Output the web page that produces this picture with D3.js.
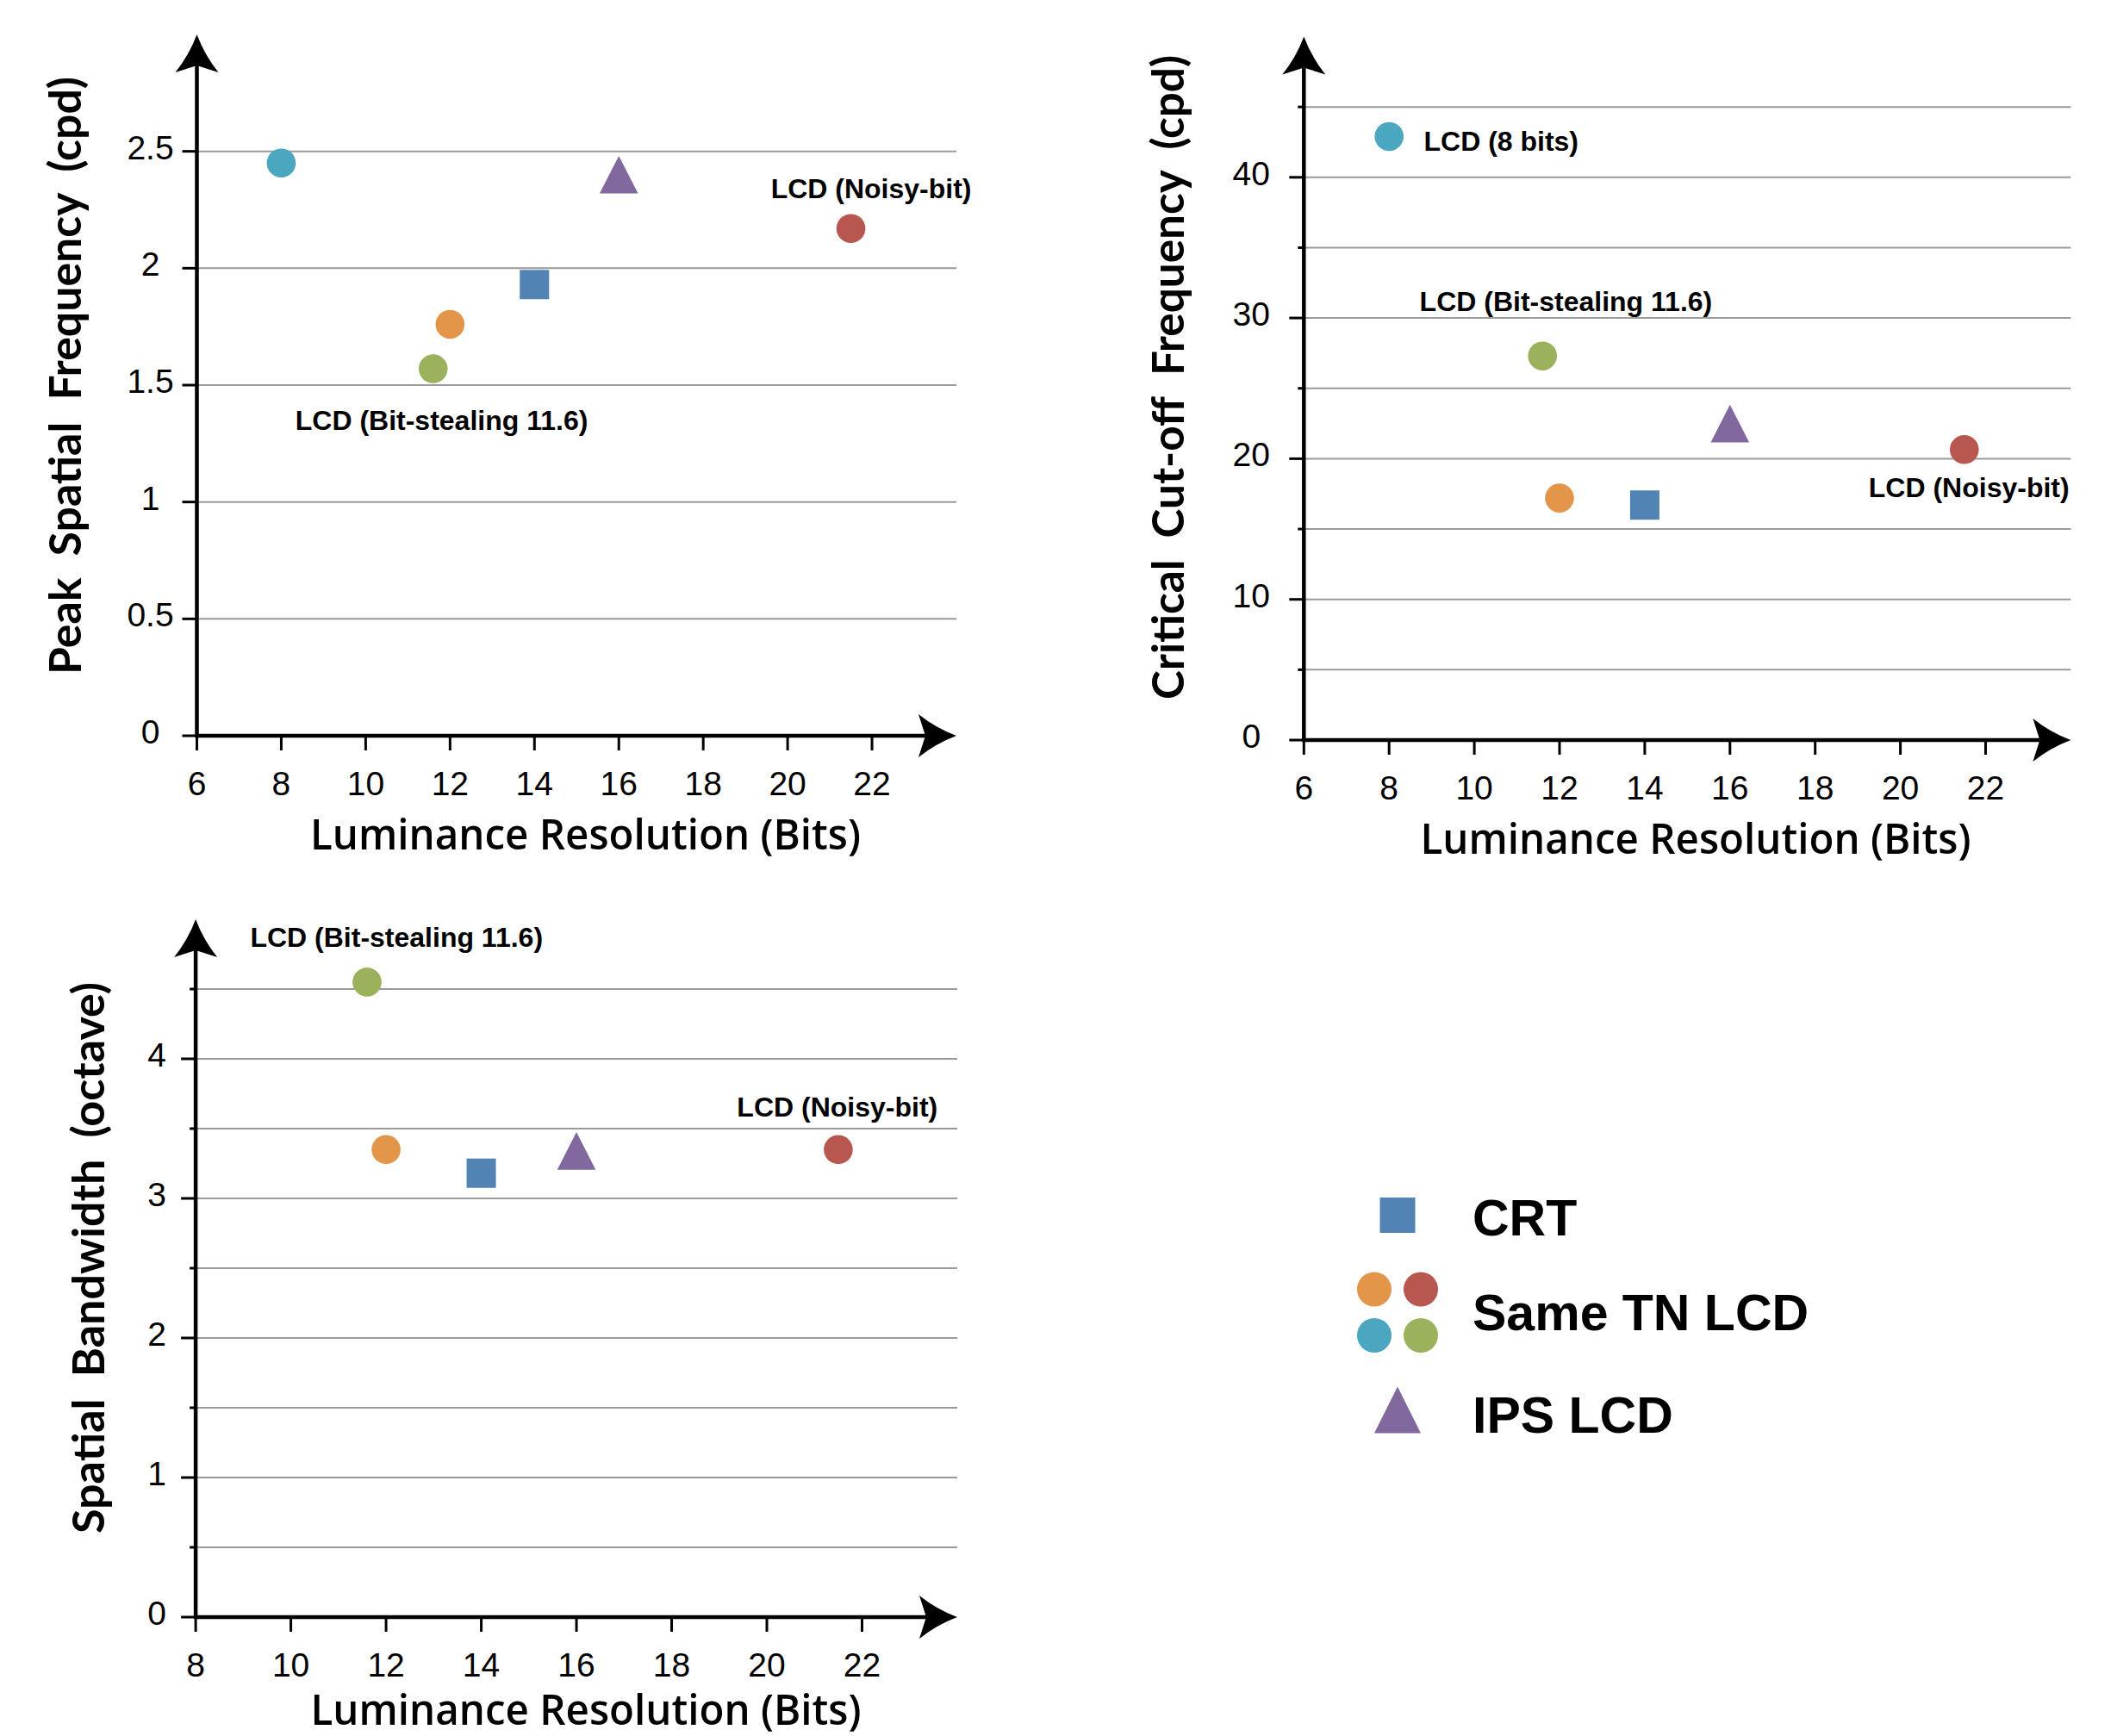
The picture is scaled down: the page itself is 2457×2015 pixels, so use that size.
<!DOCTYPE html>
<html>
<head>
<meta charset="utf-8">
<script src="https://cdn.jsdelivr.net/npm/d3@7"></script>
<style>
  html, body { margin: 0; padding: 0; background: #fff; }
  svg { display: block; }
</style>
</head>
<body>
<div id="chart"></div>
<script>
// data
var devices = ["CRT", "LCD (8 bits)", "LCD 12 bits", "LCD (Bit-stealing 11.6)", "LCD (Noisy-bit)", "IPS LCD"];
var bits = [14, 8, 12, 11.6, 21.5, 16];
var peakFreq = [1.93, 2.45, 1.76, 1.57, 2.17, 2.40];
var cutoffFreq = [16.7, 42.9, 17.2, 27.3, 20.65, 22.5];
var bandwidth = [3.18, null, 3.35, 4.55, 3.35, 3.34];

var xTicks1 = [6, 8, 10, 12, 14, 16, 18, 20, 22];
var xTicks3 = [8, 10, 12, 14, 16, 18, 20, 22];
var yTicks1 = [0, 0.5, 1, 1.5, 2, 2.5];
var yLabels1 = ["0", "0.5", "1", "1.5", "2", "2.5"];
var yTicks2 = [0, 5, 10, 15, 20, 25, 30, 35, 40, 45];
var yLabels2 = [0, 10, 20, 30, 40];
var yTicks3 = [0, 0.5, 1, 1.5, 2, 2.5, 3, 3.5, 4, 4.5];
var yLabels3 = [0, 1, 2, 3, 4];

var legendNames = ["CRT", "Same TN LCD", "IPS LCD"];

// annotation anchors (data units, text centre)
var notes1 = [["LCD (Noisy-bit)", 21.98, 2.342], ["LCD (Bit-stealing 11.6)", 11.80, 1.349]];
var notes2 = [["LCD (8 bits)", 10.63, 42.56], ["LCD (Bit-stealing 11.6)", 12.15, 31.17], ["LCD (Noisy-bit)", 21.61, 17.97]];
var notes3 = [["LCD (Bit-stealing 11.6)", 12.22, 4.872], ["LCD (Noisy-bit)", 21.48, 3.652]];

// styles per device
var shapes = ["square", "circle", "circle", "circle", "circle", "triangle"];
var colors = ["#5183b5", "#4aa7bf", "#e3964a", "#9bb15c", "#b85750", "#8169a0"];

var W = 2457, H = 2015;
var svg = d3.select("#chart").append("svg")
    .attr("width", W).attr("height", H);

var arrowUp = "M0,0 Q9,24 25,44 L0,36 L-25,44 Q-9,24 0,0 Z";

function drawPanel(p) {
    var x = d3.scaleLinear().domain(p.xDomain).range(p.xRange);
    var y = d3.scaleLinear().domain(p.yDomain).range(p.yRange);
    var g = svg.append("g");
    var x0 = x(p.xDomain[0]), y0 = y(0);
    var xEnd = x(p.xDomain[1]), yEnd = y(p.yDomain[1]);

    // gridlines
    g.selectAll(".grid")
        .data(p.yTicks.filter(function(d) { return d > 0; }))
        .join("line")
        .attr("x1", x0).attr("x2", xEnd)
        .attr("y1", function(d) { return y(d); })
        .attr("y2", function(d) { return y(d); })
        .attr("stroke", "#9a9a9a")
        .attr("stroke-width", 2);

    // y ticks
    g.selectAll(".ytick")
        .data(p.yTicks)
        .join("line")
        .attr("x1", function(d) { return p.yLabels.indexOf(d) >= 0 || p.allMajor ? x0 - 17 : x0 - 7; })
        .attr("x2", x0)
        .attr("y1", function(d) { return y(d); })
        .attr("y2", function(d) { return y(d); })
        .attr("stroke", "#000")
        .attr("stroke-width", 3);

    g.selectAll(".ylab")
        .data(p.yLabels)
        .join("text")
        .attr("x", x0 + p.yLabelDx)
        .attr("y", function(d) { return y(d) + 9; })
        .attr("text-anchor", "middle")
        .style("font-family", "'Liberation Sans', Arial, sans-serif")
        .style("font-size", "39px")
        .text(function(d, i) { return p.yText ? p.yText[i] : d; });

    // x ticks
    g.selectAll(".xtick")
        .data(p.xTicks)
        .join("line")
        .attr("x1", function(d) { return x(d); })
        .attr("x2", function(d) { return x(d); })
        .attr("y1", y0)
        .attr("y2", y0 + 17)
        .attr("stroke", "#000")
        .attr("stroke-width", 3);

    g.selectAll(".xlab")
        .data(p.xTicks)
        .join("text")
        .attr("x", function(d) { return x(d); })
        .attr("y", y0 + 69)
        .attr("text-anchor", "middle")
        .style("font-family", "'Liberation Sans', Arial, sans-serif")
        .style("font-size", "39px")
        .text(function(d) { return d; });

    // axes with arrows
    g.append("line")
        .attr("x1", x0).attr("x2", x0)
        .attr("y1", y0 + 2).attr("y2", yEnd + 36)
        .attr("stroke", "#000").attr("stroke-width", 4.5);
    g.append("line")
        .attr("x1", x0 - 2).attr("x2", xEnd - 36)
        .attr("y1", y0).attr("y2", y0)
        .attr("stroke", "#000").attr("stroke-width", 4.5);
    g.append("path")
        .attr("d", arrowUp)
        .attr("transform", "translate(" + x0 + "," + yEnd + ")")
        .attr("fill", "#000");
    g.append("path")
        .attr("d", arrowUp)
        .attr("transform", "translate(" + xEnd + "," + y0 + ") rotate(90)")
        .attr("fill", "#000");

    // axis titles
    g.append("text")
        .attr("x", p.xTitle[0])
        .attr("y", p.xTitle[1])
        .attr("text-anchor", "middle")
        .attr("textLength", 639)
        .attr("lengthAdjust", "spacingAndGlyphs")
        .style("font-family", "'Open Sans', sans-serif")
        .style("font-weight", 600)
        .style("font-size", "49px")
        .text("Luminance Resolution (Bits)");

    g.append("text")
        .attr("transform", "translate(" + p.yTitle[0] + "," + p.yTitle[1] + ") rotate(-90)")
        .attr("text-anchor", "middle")
        .attr("textLength", p.yTitle[2])
        .attr("lengthAdjust", "spacingAndGlyphs")
        .style("font-family", "Lato, 'Open Sans', sans-serif")
        .style("font-weight", 700)
        .style("font-size", "52px")
        .style("white-space", "pre")
        .text(p.yTitle[3]);

    // markers
    var pts = devices.map(function(d, i) {
        return {name: d, x: bits[i], y: p.values[i], shape: shapes[i], color: colors[i]};
    }).filter(function(d) { return d.y != null; });

    g.selectAll(".pt")
        .data(pts)
        .join("path")
        .attr("transform", function(d) { return "translate(" + x(d.x) + "," + y(d.y) + ")"; })
        .attr("d", function(d) {
            if (d.shape === "square") return "M-17,-17H17V17H-17Z";
            if (d.shape === "triangle") return "M0,-21.8L22.3,21.8L-22.3,21.8Z";
            return d3.arc()({innerRadius: 0, outerRadius: 16.8, startAngle: 0, endAngle: 2 * Math.PI});
        })
        .attr("fill", function(d) { return d.color; });

    // annotations
    g.selectAll(".note")
        .data(p.notes)
        .join("text")
        .attr("x", function(d) { return x(d[1]); })
        .attr("y", function(d) { return y(d[2]) + 11; })
        .attr("text-anchor", "middle")
        .style("font-family", "'Liberation Sans', Arial, sans-serif")
        .style("font-weight", "bold")
        .style("font-size", "32px")
        .text(function(d) { return d[0]; });
}

drawPanel({
    xDomain: [6, 24], xRange: [228.5, 1110],
    yDomain: [0, 3], yRange: [854, 40],
    xTicks: xTicks1, yTicks: yTicks1, yLabels: yTicks1, yText: yLabels1, allMajor: true,
    yLabelDx: -54,
    xTitle: [679.5, 986],
    yTitle: [94, 436, 694, "Peak  Spatial  Frequency  (cpd)"],
    values: peakFreq, notes: notes1
});

drawPanel({
    xDomain: [6, 24], xRange: [1513.3, 2403.4],
    yDomain: [0, 50], yRange: [859, 42.5],
    xTicks: xTicks1, yTicks: yTicks2, yLabels: yLabels2,
    yLabelDx: -61,
    xTitle: [1968, 991],
    yTitle: [1374, 438, 748, "Critical  Cut-off  Frequency  (cpd)"],
    values: cutoffFreq, notes: notes2
});

drawPanel({
    xDomain: [8, 24], xRange: [227.1, 1111],
    yDomain: [0, 5], yRange: [1877, 1067],
    xTicks: xTicks3, yTicks: yTicks3, yLabels: yLabels3,
    yLabelDx: -45,
    xTitle: [680, 2002],
    yTitle: [121, 1460, 640, "Spatial  Bandwidth  (octave)"],
    values: bandwidth, notes: notes3
});

// legend
var legend = svg.append("g");
legend.append("rect")
    .attr("x", 1601.5).attr("y", 1390)
    .attr("width", 41).attr("height", 41)
    .attr("fill", colors[0]);

var tnColors = [colors[2], colors[4], colors[1], colors[3]];
legend.selectAll(".tn")
    .data(tnColors)
    .join("circle")
    .attr("cx", function(d, i) { return i % 2 === 0 ? 1595 : 1649; })
    .attr("cy", function(d, i) { return i < 2 ? 1496.5 : 1550; })
    .attr("r", 20)
    .attr("fill", function(d) { return d; });

legend.append("path")
    .attr("d", "M1622,1609.5L1649,1663.5L1595,1663.5Z")
    .attr("fill", colors[5]);

var legendBase = [1434, 1544, 1663];
legend.selectAll(".ltext")
    .data(legendNames)
    .join("text")
    .attr("x", 1709)
    .attr("y", function(d, i) { return legendBase[i]; })
    .style("font-family", "'Liberation Sans', Arial, sans-serif")
    .style("font-weight", "bold")
    .style("font-size", "59px")
    .text(function(d) { return d; });
</script>
</body>
</html>
